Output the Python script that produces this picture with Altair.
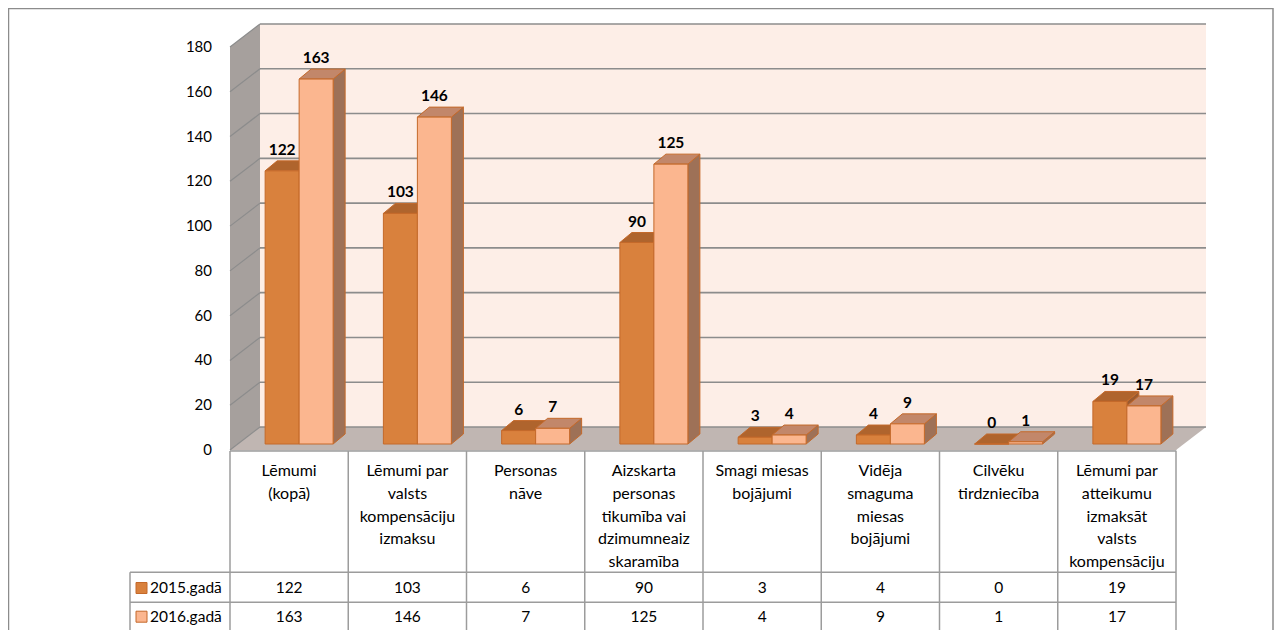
import altair as alt
import pandas as pd

# ---------------- data ----------------
categories = [
    "Lēmumi\n(kopā)",
    "Lēmumi par\nvalsts\nkompensāciju\nizmaksu",
    "Personas\nnāve",
    "Aizskarta\npersonas\ntikumība vai\ndzimumneaiz\nskaramība",
    "Smagi miesas\nbojājumi",
    "Vidēja\nsmaguma\nmiesas\nbojājumi",
    "Cilvēku\ntirdzniecība",
    "Lēmumi par\natteikumu\nizmaksāt\nvalsts\nkompensāciju",
]
series_names = ["2015.gadā", "2016.gadā"]
values_2015 = [122, 103, 6, 90, 3, 4, 0, 19]
values_2016 = [163, 146, 7, 125, 4, 9, 1, 17]
y_ticks = [0, 20, 40, 60, 80, 100, 120, 140, 160, 180]

# ---------------- layout / style ----------------
W, H = 946, 403
N = len(categories)
YMAX = 180
UX = W / N
UY = H / YMAX
ORIGIN_X, ORIGIN_Y = 230, 47  # page position of plot origin


def ux(p):
    return p / UX


def uy(p):
    return p / UY


def rx(page_x):
    return page_x - ORIGIN_X


def ry(page_y):
    return page_y - ORIGIN_Y


BACK_DX, BACK_DY = 30, 23
BAR_DX, BAR_DY = 10, 6
BAR_W = 34
DEPTH_DX, DEPTH_DY = 12, 10

FRONT = ["#D9813D", "#FBB68F"]
TOP = ["#AF642D", "#C2876A"]
SIDE = ["#9A5A30", "#9E7157"]
EDGE = "#C4692A"
WALL_BACK = "#FDEEE7"
WALL_SIDE = "#A6A09D"
FLOOR = "#C0B6B2"
GRID = "#8C8C8C"
TABLE_LINE = "#9C9C9C"
FONT = "Lato"

xs = alt.Scale(domain=[0, N], nice=False, zero=False)
ys = alt.Scale(domain=[0, YMAX], nice=False, zero=False)

layers = []

# back wall
back_df = pd.DataFrame([{"x": ux(BACK_DX), "x2": N + ux(BACK_DX), "y": uy(BACK_DY), "y2": YMAX + uy(BACK_DY)}])
layers.append(
    alt.Chart(back_df).mark_rect(fill=WALL_BACK).encode(
        x=alt.X("x:Q", scale=xs, axis=None),
        x2="x2:Q",
        y=alt.Y("y:Q", scale=ys, axis=None),
        y2="y2:Q",
    )
)

# y-axis labels (front plane)
axis_df = pd.DataFrame({"v": y_ticks, "t": [str(t) for t in y_ticks]})
layers.append(
    alt.Chart(axis_df).mark_text(
        font=FONT, fontSize=15, color="#000000", align="right", baseline="middle"
    ).encode(
        x=alt.value(-18),
        y=alt.Y("v:Q", scale=ys, axis=None),
        text="t:N",
    )
)

# side wall
side_df = pd.DataFrame([
    {"x": 0.0, "y": 0.0, "y2": float(YMAX)},
    {"x": ux(BACK_DX), "y": uy(BACK_DY), "y2": YMAX + uy(BACK_DY)},
])
layers.append(
    alt.Chart(side_df).mark_area(orient="vertical", fill=WALL_SIDE).encode(
        x=alt.X("x:Q", scale=xs, axis=None),
        y=alt.Y("y:Q", scale=ys, axis=None, stack=None),
        y2="y2:Q",
    )
)

# floor
floor_df = pd.DataFrame([
    {"y": 0.0, "x": 0.0, "x2": float(N)},
    {"y": uy(BACK_DY), "x": ux(BACK_DX), "x2": N + ux(BACK_DX)},
])
layers.append(
    alt.Chart(floor_df).mark_area(orient="horizontal", fill=FLOOR).encode(
        y=alt.Y("y:Q", scale=ys, axis=None),
        x=alt.X("x:Q", scale=xs, axis=None, stack=None),
        x2="x2:Q",
    )
)

# back-wall gridlines
bg_df = pd.DataFrame({"y": [t + uy(BACK_DY) for t in y_ticks], "x": ux(BACK_DX), "x2": N + ux(BACK_DX)})
layers.append(
    alt.Chart(bg_df).mark_rule(color=GRID, strokeWidth=1.6).encode(
        x=alt.X("x:Q", scale=xs, axis=None), x2="x2:Q", y=alt.Y("y:Q", scale=ys, axis=None)
    )
)
# side-wall gridlines (diagonal)
sg_df = pd.DataFrame({"y": y_ticks, "y2": [t + uy(BACK_DY) for t in y_ticks], "x": 0.0, "x2": ux(BACK_DX)})
layers.append(
    alt.Chart(sg_df).mark_rule(color=GRID, strokeWidth=1.2).encode(
        x=alt.X("x:Q", scale=xs, axis=None), x2="x2:Q",
        y=alt.Y("y:Q", scale=ys, axis=None), y2="y2:Q",
    )
)

# bars
label_rows = []
for s, vals in enumerate([values_2015, values_2016]):
    front, top, side = [], [], []
    for i, v in enumerate(vals):
        x0 = i + 0.5 + ux(BAR_DX) + (s - 1) * ux(BAR_W)
        x1 = x0 + ux(BAR_W)
        y0 = uy(BAR_DY)
        y1 = v + uy(BAR_DY)
        front.append({"x": x0, "x2": x1, "y": y0, "y2": y1})
        top.append({"c": i, "y": y1, "x": x0, "x2": x1})
        top.append({"c": i, "y": y1 + uy(DEPTH_DY), "x": x0 + ux(DEPTH_DX), "x2": x1 + ux(DEPTH_DX)})
        side.append({"c": i, "x": x1, "y": y0, "y2": y1})
        side.append({"c": i, "x": x1 + ux(DEPTH_DX), "y": y0 + uy(DEPTH_DY), "y2": y1 + uy(DEPTH_DY)})
        label_rows.append({"x": (x0 + x1) / 2, "y": y1 + uy(DEPTH_DY + 11), "t": str(v)})
    layers.append(
        alt.Chart(pd.DataFrame(side)).mark_area(orient="vertical", fill=SIDE[s], stroke=EDGE, strokeWidth=1).encode(
            x=alt.X("x:Q", scale=xs, axis=None),
            y=alt.Y("y:Q", scale=ys, axis=None, stack=None),
            y2="y2:Q",
            detail="c:N",
        )
    )
    layers.append(
        alt.Chart(pd.DataFrame(top)).mark_area(orient="horizontal", fill=TOP[s], stroke=EDGE, strokeWidth=1).encode(
            y=alt.Y("y:Q", scale=ys, axis=None),
            x=alt.X("x:Q", scale=xs, axis=None, stack=None),
            x2="x2:Q",
            detail="c:N",
        )
    )
    layers.append(
        alt.Chart(pd.DataFrame(front)).mark_rect(fill=FRONT[s], stroke=EDGE, strokeWidth=1).encode(
            x=alt.X("x:Q", scale=xs, axis=None), x2="x2:Q",
            y=alt.Y("y:Q", scale=ys, axis=None), y2="y2:Q",
        )
    )

layers.append(
    alt.Chart(pd.DataFrame(label_rows)).mark_text(
        font=FONT, fontSize=15.5, fontWeight="bold", color="#000000", baseline="middle", align="center"
    ).encode(
        x=alt.X("x:Q", scale=xs, axis=None), y=alt.Y("y:Q", scale=ys, axis=None), text="t:N"
    )
)

# ---------------- data table ----------------
LEG_X = ux(130 - ORIGIN_X)
vlines = pd.DataFrame({"x": list(range(N + 1))})
layers.append(
    alt.Chart(vlines).mark_rule(color=TABLE_LINE, strokeWidth=1.5).encode(
        x=alt.X("x:Q", scale=xs, axis=None), y=alt.value(ry(451)), y2=alt.value(ry(700))
    )
)
layers.append(
    alt.Chart(pd.DataFrame({"x": [LEG_X]})).mark_rule(color=TABLE_LINE, strokeWidth=1.5).encode(
        x=alt.X("x:Q", scale=xs, axis=None), y=alt.value(ry(572.3)), y2=alt.value(ry(700))
    )
)
layers.append(
    alt.Chart(pd.DataFrame({"x": [0.0], "x2": [float(N)]})).mark_rule(color=TABLE_LINE, strokeWidth=1.5).encode(
        x=alt.X("x:Q", scale=xs, axis=None), x2="x2:Q", y=alt.value(ry(451))
    )
)
for yy in [572.3, 602.3]:
    layers.append(
        alt.Chart(pd.DataFrame({"x": [LEG_X], "x2": [float(N)]})).mark_rule(color=TABLE_LINE, strokeWidth=1.5).encode(
            x=alt.X("x:Q", scale=xs, axis=None), x2="x2:Q", y=alt.value(ry(yy))
        )
    )

cat_df = pd.DataFrame({"x": [i + 0.5 for i in range(N)], "t": categories})
layers.append(
    alt.Chart(cat_df).mark_text(
        font=FONT, fontSize=16, color="#000000", baseline="top", align="center", lineBreak="\n", lineHeight=22.7
    ).encode(x=alt.X("x:Q", scale=xs, axis=None), y=alt.value(ry(463.4)), text="t:N")
)

row_y = [588, 616.7]
for s, vals in enumerate([values_2015, values_2016]):
    vdf = pd.DataFrame({"x": [i + 0.5 for i in range(N)], "t": [str(v) for v in vals]})
    layers.append(
        alt.Chart(vdf).mark_text(font=FONT, fontSize=15.5, color="#000000", baseline="middle", align="center").encode(
            x=alt.X("x:Q", scale=xs, axis=None), y=alt.value(ry(row_y[s])), text="t:N"
        )
    )
    ldf = pd.DataFrame({"x": [ux(141.5 - ORIGIN_X)], "tx": [ux(150 - ORIGIN_X)], "t": [series_names[s]]})
    layers.append(
        alt.Chart(ldf).mark_square(size=121, fill=FRONT[s], stroke=EDGE, strokeWidth=1, opacity=1).encode(
            x=alt.X("x:Q", scale=xs, axis=None), y=alt.value(ry(row_y[s]))
        )
    )
    layers.append(
        alt.Chart(ldf).mark_text(font=FONT, fontSize=15.5, color="#000000", baseline="middle", align="left").encode(
            x=alt.X("tx:Q", scale=xs, axis=None), y=alt.value(ry(row_y[s])), text="t:N"
        )
    )

# outer border
layers.append(
    alt.Chart(pd.DataFrame({"a": [0]})).mark_rect(fill="transparent", stroke="#8C8C8C", strokeWidth=1.5).encode(
        x=alt.value(rx(8.5)), x2=alt.value(rx(1273)), y=alt.value(ry(8.5)), y2=alt.value(ry(720))
    )
)

chart = alt.layer(*layers).properties(
    width=W,
    height=H,
    autosize=alt.AutoSizeParams(type="none"),
    padding={"left": 222, "top": 39, "right": 98, "bottom": 183},
    background="white",
).configure_view(stroke=None).configure(font=FONT)

chart.save("out.html", embed_options={"renderer": "svg", "actions": False})
